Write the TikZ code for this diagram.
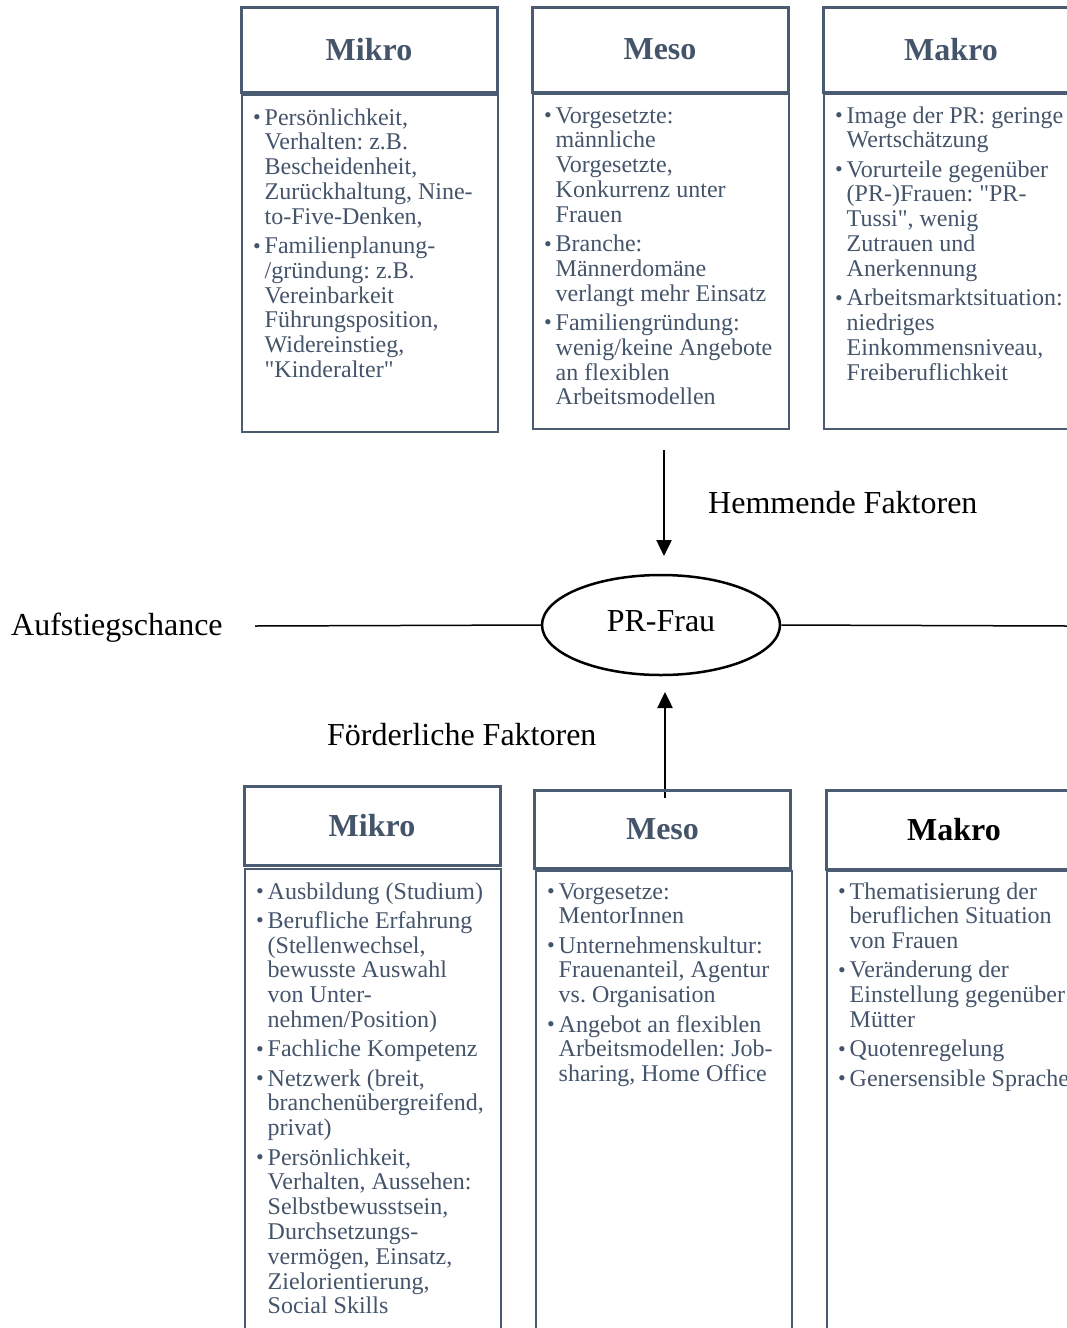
\documentclass[tikz,border=0pt]{standalone}
\usepackage{fontspec}
\setmainfont{Liberation Serif}
\usetikzlibrary{shapes.geometric,arrows.meta}

\definecolor{slate}{HTML}{44546A}
\definecolor{frame}{HTML}{4B5B72}
\newcommand{\bul}{\makebox[11.5pt][l]{\raisebox{0.5pt}{\fontsize{22}{22}\selectfont\textbullet}}}
\newcommand{\dq}{\XeTeXglyph\XeTeXcharglyph"22\relax}
\newcommand{\lstfont}{\fontsize{24}{24.8}\selectfont\frenchspacing}

\begin{document}
\begin{tikzpicture}[x=1pt, y=-1pt,
    hdr/.style={draw=frame, line width=3pt, minimum width=256pt, inner sep=0pt,
      text=slate, font=\fontsize{32}{36}\selectfont\bfseries},
    body/.style={draw=frame, line width=2.2pt, minimum width=256pt, inner sep=0pt, anchor=north west},
    lst/.style={anchor=base west, inner sep=0pt, text=slate, font=\lstfont},
    lbl/.style={anchor=base west, inner sep=0pt, font=\fontsize{32}{36}\selectfont},
    arr/.style={-{Triangle[length=16pt,width=15pt]}, line width=2.5pt},
    hline/.style={line width=1.5pt}
    ]

    \useasboundingbox (0,0) rectangle (1067,1328);
    \clip (0,0) rectangle (1067,1328);

    % hemmende Faktoren
    \node[hdr, minimum height=85pt] (mikroT) at (369,49.5) {Mikro};
    \node[hdr, minimum height=85pt] (mesoT) at (660,49.5) {Meso};
    \node[hdr, minimum height=85pt] (makroT) at (951,49.5) {Makro};
    \node[body, minimum height=337pt] (mikroTbody) at (241,94) {};
    \node[body, minimum height=335pt] (mesoTbody) at (532,93) {};
    \node[body, minimum height=335pt] (makroTbody) at (823,93) {};

    \node[lst] (mikroTtxt) at (253,125) {\begin{tabular}[t]{@{}l@{}l@{}}
      \bul & Persönlichkeit,\\
           & Verhalten: z.B.\\
           & Bescheidenheit,\\
           & Zurückhaltung, Nine-\\
           & to-Five-Denken,\\[4.5pt]
      \bul & Familienplanung-\\
           & /gründung: z.B.\\
           & Vereinbarkeit\\
           & Führungsposition,\\
           & Widereinstieg,\\
           & \dq Kinderalter\dq
    \end{tabular}};
    \node[lst] (mesoTtxt) at (544,123) {\begin{tabular}[t]{@{}l@{}l@{}}
      \bul & Vorgesetzte:\\
           & männliche\\
           & Vorgesetzte,\\
           & Konkurrenz unter\\
           & Frauen\\[4.5pt]
      \bul & Branche:\\
           & Männerdomäne\\
           & verlangt mehr Einsatz\\[4.5pt]
      \bul & Familiengründung:\\
           & wenig/keine Angebote\\
           & an flexiblen\\
           & Arbeitsmodellen
    \end{tabular}};
    \node[lst] (makroTtxt) at (835,123) {\begin{tabular}[t]{@{}l@{}l@{}}
      \bul & Image der PR: geringe\\
           & Wertschätzung\\[4.5pt]
      \bul & Vorurteile gegenüber\\
           & (PR-)Frauen: \dq PR-\\
           & Tussi\dq, wenig\\
           & Zutrauen und\\
           & Anerkennung\\[4.5pt]
      \bul & Arbeitsmarktsituation:\\
           & niedriges\\
           & Einkommensniveau,\\
           & Freiberuflichkeit
    \end{tabular}};

    % Mitte
    \node[ellipse, draw, line width=2.5pt, minimum width=238pt, minimum height=100pt,
      inner sep=0pt, text depth=8pt, font=\fontsize{32}{36}\selectfont] (frau) at (661,625) {PR-Frau};
    \coordinate (lineL) at (255,626);
    \coordinate (lineR) at (1067,626);
    \draw[hline] (lineL) -- (frau.west);
    \draw[hline] (frau.east) -- (lineR);
    \node[lbl] (aufstieg) at (11,635) {Aufstiegschance};

    \coordinate (hemS) at (664,450);
    \coordinate (hemE) at (664,556);
    \draw[arr] (hemS) -- (hemE);
    \node[lbl] (hemmend) at (708,513) {Hemmende Faktoren};

    \coordinate (foeS) at (665,798);
    \coordinate (foeE) at (665,692);
    \draw[arr] (foeS) -- (foeE);
    \node[lbl] (foerder) at (327,745) {Förderliche Faktoren};

    % foerderliche Faktoren
    \node[hdr, minimum height=79pt] (mikroB) at (372,825.5) {Mikro};
    \node[hdr, minimum height=78pt] (mesoB) at (662.5,829) {Meso};
    \node[hdr, minimum height=79pt, text=black] (makroB) at (954,829.5) {Makro};
    \node[body, minimum height=480pt] (mikroBbody) at (244,868) {};
    \node[body, minimum height=480pt] (mesoBbody) at (535,870) {};
    \node[body, minimum height=480pt] (makroBbody) at (826,870) {};

    \node[lst] (mikroBtxt) at (256,899) {\begin{tabular}[t]{@{}l@{}l@{}}
      \bul & Ausbildung (Studium)\\[4.5pt]
      \bul & Berufliche Erfahrung\\
           & (Stellenwechsel,\\
           & bewusste Auswahl\\
           & von Unter-\\
           & nehmen/Position)\\[4.5pt]
      \bul & Fachliche Kompetenz\\[4.5pt]
      \bul & Netzwerk (breit,\\
           & branchenübergreifend,\\
           & privat)\\[4.5pt]
      \bul & Persönlichkeit,\\
           & Verhalten, Aussehen:\\
           & Selbstbewusstsein,\\
           & Durchsetzungs-\\
           & vermögen, Einsatz,\\
           & Zielorientierung,\\
           & Social Skills
    \end{tabular}};
    \node[lst] (mesoBtxt) at (547,899) {\begin{tabular}[t]{@{}l@{}l@{}}
      \bul & Vorgesetze:\\
           & MentorInnen\\[4.5pt]
      \bul & Unternehmenskultur:\\
           & Frauenanteil, Agentur\\
           & vs. Organisation\\[4.5pt]
      \bul & Angebot an flexiblen\\
           & Arbeitsmodellen: Job-\\
           & sharing, Home Office
    \end{tabular}};
    \node[lst] (makroBtxt) at (838,899) {\begin{tabular}[t]{@{}l@{}l@{}}
      \bul & Thematisierung der\\
           & beruflichen Situation\\
           & von Frauen\\[4.5pt]
      \bul & Veränderung der\\
           & Einstellung gegenüber\\
           & Mütter\\[4.5pt]
      \bul & Quotenregelung\\[4.5pt]
      \bul & Genersensible Sprache
    \end{tabular}};

\end{tikzpicture}
\end{document}
